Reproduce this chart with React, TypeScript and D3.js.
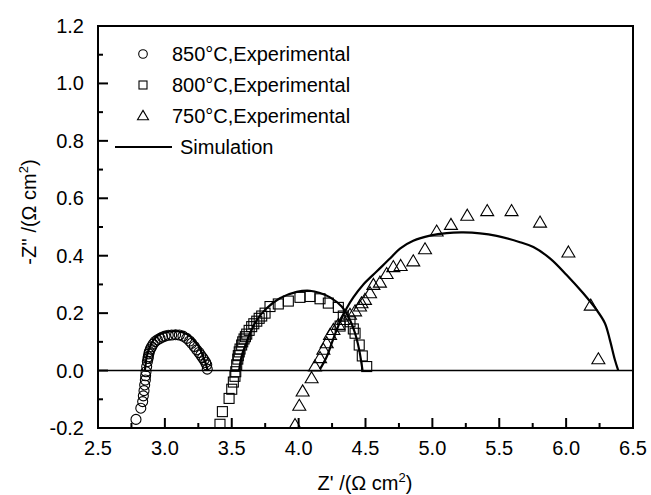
import React from "react";
import * as d3 from "d3";

const xTicks = [2.5, 3.0, 3.5, 4.0, 4.5, 5.0, 5.5, 6.0, 6.5];
const yTicks = [-0.2, 0.0, 0.2, 0.4, 0.6, 0.8, 1.0, 1.2];
const xMinor = [2.75, 3.25, 3.75, 4.25, 4.75, 5.25, 5.75, 6.25];
const yMinor = [-0.1, 0.1, 0.3, 0.5, 0.7, 0.9, 1.1];

const exp850: [number, number][] = [
  [2.784, -0.17], [2.82, -0.131], [2.834, -0.108], [2.839, -0.088], [2.844, -0.07],
  [2.849, -0.05], [2.854, -0.033], [2.856, -0.018], [2.859, -0.004], [2.864, 0.014],
  [2.869, 0.031], [2.874, 0.042], [2.876, 0.048], [2.88, 0.058], [2.884, 0.066],
  [2.892, 0.075], [2.901, 0.083], [2.912, 0.092], [2.926, 0.101], [2.944, 0.107],
  [2.964, 0.112], [2.982, 0.117], [3.001, 0.12], [3.025, 0.123], [3.051, 0.124],
  [3.08, 0.125], [3.108, 0.124], [3.135, 0.12], [3.163, 0.112], [3.185, 0.103],
  [3.2, 0.095], [3.22, 0.084], [3.238, 0.072], [3.255, 0.063], [3.268, 0.054],
  [3.282, 0.045], [3.293, 0.037], [3.305, 0.028], [3.313, 0.02], [3.317, 0.005],
];

const exp800: [number, number][] = [
  [3.412, -0.187], [3.43, -0.143], [3.48, -0.097], [3.5, -0.065], [3.512, -0.04],
  [3.524, -0.02], [3.53, -0.004], [3.537, 0.02], [3.545, 0.04], [3.549, 0.052],
  [3.556, 0.065], [3.562, 0.075], [3.574, 0.089], [3.582, 0.1], [3.592, 0.11],
  [3.602, 0.118], [3.612, 0.127], [3.63, 0.14], [3.649, 0.153], [3.665, 0.163],
  [3.687, 0.172], [3.705, 0.182], [3.724, 0.19], [3.749, 0.2], [3.786, 0.223],
  [3.848, 0.232], [3.923, 0.242], [4.01, 0.255], [4.085, 0.258], [4.16, 0.25],
  [4.222, 0.235], [4.297, 0.22], [4.31, 0.155], [4.334, 0.19], [4.384, 0.17],
  [4.409, 0.145], [4.422, 0.13], [4.453, 0.089], [4.476, 0.051], [4.509, 0.014],
];

const exp750: [number, number][] = [
  [3.973, -0.19], [4.005, -0.123], [4.03, -0.073], [4.097, -0.027], [4.122, 0.014],
  [4.16, 0.043], [4.185, 0.072], [4.21, 0.095], [4.235, 0.124], [4.26, 0.141],
  [4.297, 0.159], [4.334, 0.176], [4.384, 0.194], [4.422, 0.206], [4.459, 0.223],
  [4.47, 0.234], [4.496, 0.246], [4.534, 0.269], [4.559, 0.298], [4.608, 0.306],
  [4.658, 0.336], [4.708, 0.36], [4.763, 0.364], [4.857, 0.38], [4.945, 0.422],
  [5.032, 0.484], [5.139, 0.507], [5.261, 0.539], [5.41, 0.555], [5.592, 0.555],
  [5.805, 0.515], [6.017, 0.411], [6.184, 0.226], [6.241, 0.039],
];

const sim850: [number, number][] = [
  [2.85, 0], [2.857, 0.025], [2.864, 0.048], [2.885, 0.08], [2.913, 0.105],
  [2.95, 0.123], [2.988, 0.131], [3.04, 0.136], [3.088, 0.137], [3.14, 0.132],
  [3.188, 0.12], [3.225, 0.1], [3.25, 0.087], [3.27, 0.068], [3.287, 0.048],
  [3.305, 0.025], [3.32, 0],
];

const sim800: [number, number][] = [
  [3.555, 0], [3.565, 0.03], [3.58, 0.06], [3.6, 0.084], [3.636, 0.13],
  [3.687, 0.176], [3.761, 0.217], [3.86, 0.252], [3.986, 0.274], [4.085, 0.278],
  [4.16, 0.27], [4.235, 0.255], [4.322, 0.223], [4.384, 0.176], [4.422, 0.13],
  [4.453, 0.072], [4.47, 0.025], [4.478, 0],
];

const sim750: [number, number][] = [
  [4.16, 0.005], [4.21, 0.048], [4.247, 0.095], [4.284, 0.141], [4.322, 0.182],
  [4.359, 0.217], [4.409, 0.255], [4.484, 0.3], [4.583, 0.345], [4.683, 0.39],
  [4.758, 0.425], [4.857, 0.452], [4.982, 0.47], [5.107, 0.479], [5.231, 0.481],
  [5.356, 0.478], [5.481, 0.469], [5.655, 0.447], [5.755, 0.43], [5.879, 0.391],
  [6.004, 0.333], [6.128, 0.269], [6.228, 0.211], [6.29, 0.165], [6.327, 0.107],
  [6.365, 0.037], [6.39, 0],
];

const legendLabels = ["850°C,Experimental", "800°C,Experimental", "750°C,Experimental", "Simulation"];

const W = 651;
const H = 495;
const L = 98, R = 633, T = 26, B = 428;
const FONT = "'Liberation Sans', Arial, Helvetica, sans-serif";
const FS = 20;

const x = d3.scaleLinear().domain([2.5, 6.5]).range([L, R]);
const y = d3.scaleLinear().domain([-0.2, 1.2]).range([B, T]);

const line = d3
  .line<[number, number]>()
  .x((d) => x(d[0]))
  .y((d) => y(d[1]))
  .curve(d3.curveCatmullRom.alpha(0.5));

const triPath = (cx: number, cy: number, s: number) => {
  const h = s * 0.85;
  return `M${cx},${cy - h * 0.6}L${cx + s / 2},${cy + h * 0.4}L${cx - s / 2},${cy + h * 0.4}Z`;
};

export default function App() {
  return (
    <svg
      width={W}
      height={H}
      style={{ position: "absolute", left: 0, top: 0, background: "#fff" }}
      fontFamily={FONT}
    >
      <rect x={0} y={0} width={W} height={H} fill="#fff" />
      <defs>
        <clipPath id="plot">
          <rect x={L} y={T} width={R - L} height={B - T} />
        </clipPath>
      </defs>

      {/* zero line */}
      <line x1={L} x2={R} y1={y(0)} y2={y(0)} stroke="#000" strokeWidth={1.6} />

      <g clipPath="url(#plot)" fill="none" stroke="#000">
        {exp850.map((d, i) => (
          <circle key={"c" + i} cx={x(d[0])} cy={y(d[1])} r={5} strokeWidth={1.1} />
        ))}
        {exp800.map((d, i) => (
          <rect key={"s" + i} x={x(d[0]) - 5} y={y(d[1]) - 5} width={10} height={10} strokeWidth={1.1} />
        ))}
        {exp750.map((d, i) => (
          <path key={"t" + i} d={triPath(x(d[0]), y(d[1]), 13)} strokeWidth={1.1} />
        ))}
        {[sim850, sim800, sim750].map((s, i) => (
          <path key={"l" + i} d={line(s) || ""} strokeWidth={2.2} />
        ))}
      </g>

      {/* frame */}
      <rect x={L} y={T} width={R - L} height={B - T} fill="none" stroke="#000" strokeWidth={2} />

      {/* x ticks */}
      {xTicks.map((t) => (
        <g key={"xt" + t}>
          <line x1={x(t)} x2={x(t)} y1={B} y2={B - 10} stroke="#000" strokeWidth={2} />
          <text x={x(t)} y={455} textAnchor="middle" fontSize={FS} fill="#000">
            {t.toFixed(1)}
          </text>
        </g>
      ))}
      {xMinor.map((t) => (
        <line key={"xm" + t} x1={x(t)} x2={x(t)} y1={B} y2={B - 5} stroke="#000" strokeWidth={2} />
      ))}

      {/* y ticks */}
      {yTicks.map((t) => (
        <g key={"yt" + t}>
          <line x1={L} x2={L + 10} y1={y(t)} y2={y(t)} stroke="#000" strokeWidth={2} />
          <text x={84} y={y(t) + 7} textAnchor="end" fontSize={FS} fill="#000">
            {t.toFixed(1)}
          </text>
        </g>
      ))}
      {yMinor.map((t) => (
        <line key={"ym" + t} x1={L} x2={L + 5} y1={y(t)} y2={y(t)} stroke="#000" strokeWidth={2} />
      ))}

      {/* axis labels */}
      <text x={365} y={490} textAnchor="middle" fontSize={FS} fill="#000">
        Z' /(Ω cm<tspan dy={-8} fontSize={13}>2</tspan>
        <tspan dy={8}>)</tspan>
      </text>
      <text
        transform="translate(36,212) rotate(-90)"
        textAnchor="middle"
        fontSize={FS}
        fill="#000"
      >
        -Z'' /(Ω cm<tspan dy={-8} fontSize={13}>2</tspan>
        <tspan dy={8}>)</tspan>
      </text>

      {/* legend */}
      <g fill="none" stroke="#000" strokeWidth={1.1}>
        <circle cx={143} cy={54} r={4.3} />
        <rect x={139} y={81} width={8} height={8} />
        <path d={triPath(143, 116, 11)} />
        <line x1={115} x2={172} y1={147} y2={147} strokeWidth={2} />
      </g>
      {legendLabels.map((lab, i) => (
        <text
          key={lab}
          x={i < 3 ? 172 : 180}
          y={54 + i * 31 + 7}
          fontSize={FS}
          fill="#000"
        >
          {lab}
        </text>
      ))}
    </svg>
  );
}
